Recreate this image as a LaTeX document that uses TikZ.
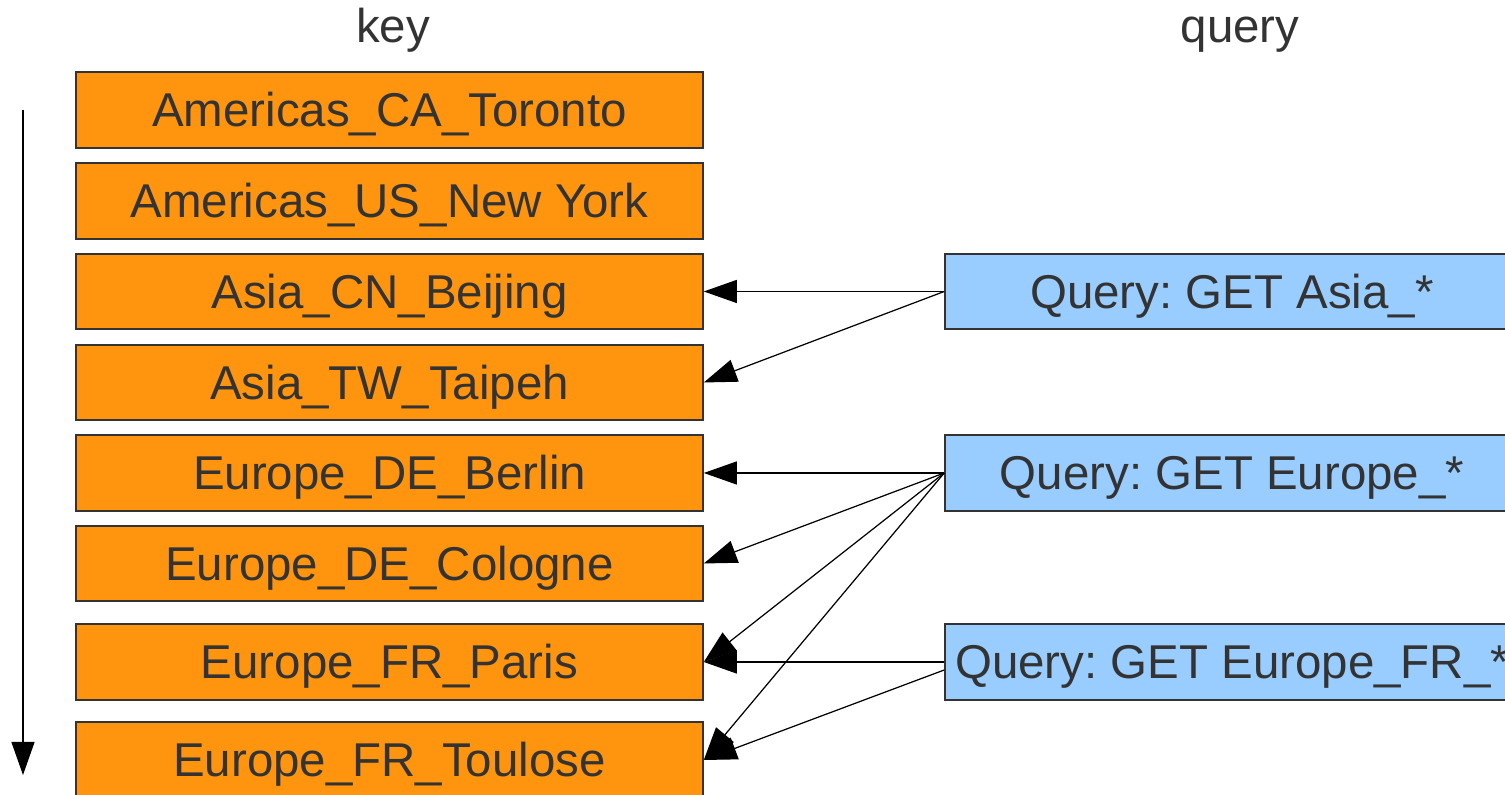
\documentclass[tikz,border=0pt]{standalone}
\usepackage{fontspec}
\setmainfont{Liberation Sans}
\frenchspacing
\usetikzlibrary{arrows.meta,positioning}
\definecolor{korange}{HTML}{FF950E}
\definecolor{qsky}{HTML}{99CCFF}
\definecolor{tgray}{HTML}{333333}

\begin{document}
\begin{tikzpicture}[
    txt/.style={font=\fontsize{13.5}{16}\selectfont, text=tgray, text height=9.67pt, text depth=0pt},
    box/.style={rectangle, draw=black!80, line width=0.45pt, inner sep=0pt, minimum height=0.755cm, txt},
    keybox/.style={box, fill=korange, minimum width=6.27cm},
    qbox/.style={box, fill=qsky, minimum width=5.74cm},
    arr/.style={-{Triangle[length=0.33cm, width=0.23cm]}, line width=0.35pt}
]
    \useasboundingbox (0,0) rectangle (15.05,7.95);
    \clip (0,0) rectangle (15.05,7.95);

    % Column titles
    \node[txt] (keytitle) at (3.93,7.69) {key};
    \node[txt] (querytitle) at (12.40,7.69) {query};

    % Sorted keys
    \node[keybox] (toronto) at (3.895,6.85) {Americas\_CA\_Toronto};
    \node[keybox] (newyork) at (3.895,5.94) {Americas\_US\_New York};
    \node[keybox] (beijing) at (3.895,5.035) {Asia\_CN\_Beijing};
    \node[keybox] (taipeh) at (3.895,4.125) {Asia\_TW\_Taipeh};
    \node[keybox] (berlin) at (3.895,3.22) {Europe\_DE\_Berlin};
    \node[keybox] (cologne) at (3.895,2.315) {Europe\_DE\_Cologne};
    \node[keybox] (paris) at (3.895,1.33) {Europe\_FR\_Paris};
    \node[keybox] (toulose) at (3.895,0.35) {Europe\_FR\_Toulose};

    % Prefix queries
    \node[qbox] (qasia) at (12.32,5.035) {Query: GET Asia\_*};
    \node[qbox] (qeurope) at (12.32,3.22) {Query: GET Europe\_*};
    \node[qbox] (qfrance) at (12.32,1.33) {Query: GET Europe\_FR\_*};

    % Sort order
    \coordinate (ordertop) at (0.23,6.85);
    \coordinate (orderend) at (0.23,0.20);
    \draw[arr] (ordertop) -- (orderend);

    % Arrows
    \draw[arr] (qasia.west) -- (beijing.east);
    \draw[arr] (qasia.west) -- (taipeh.east);
    \draw[arr] (qeurope.west) -- (berlin.east);
    \draw[arr] (qeurope.west) -- (cologne.east);
    \draw[arr] (qeurope.west) -- (paris.east);
    \draw[arr] (qeurope.west) -- (toulose.east);
    \draw[arr] (qfrance.west) -- (paris.east);
    \draw[arr] ([yshift=-0.08cm]qfrance.west) -- (toulose.east);

\end{tikzpicture}
\end{document}
